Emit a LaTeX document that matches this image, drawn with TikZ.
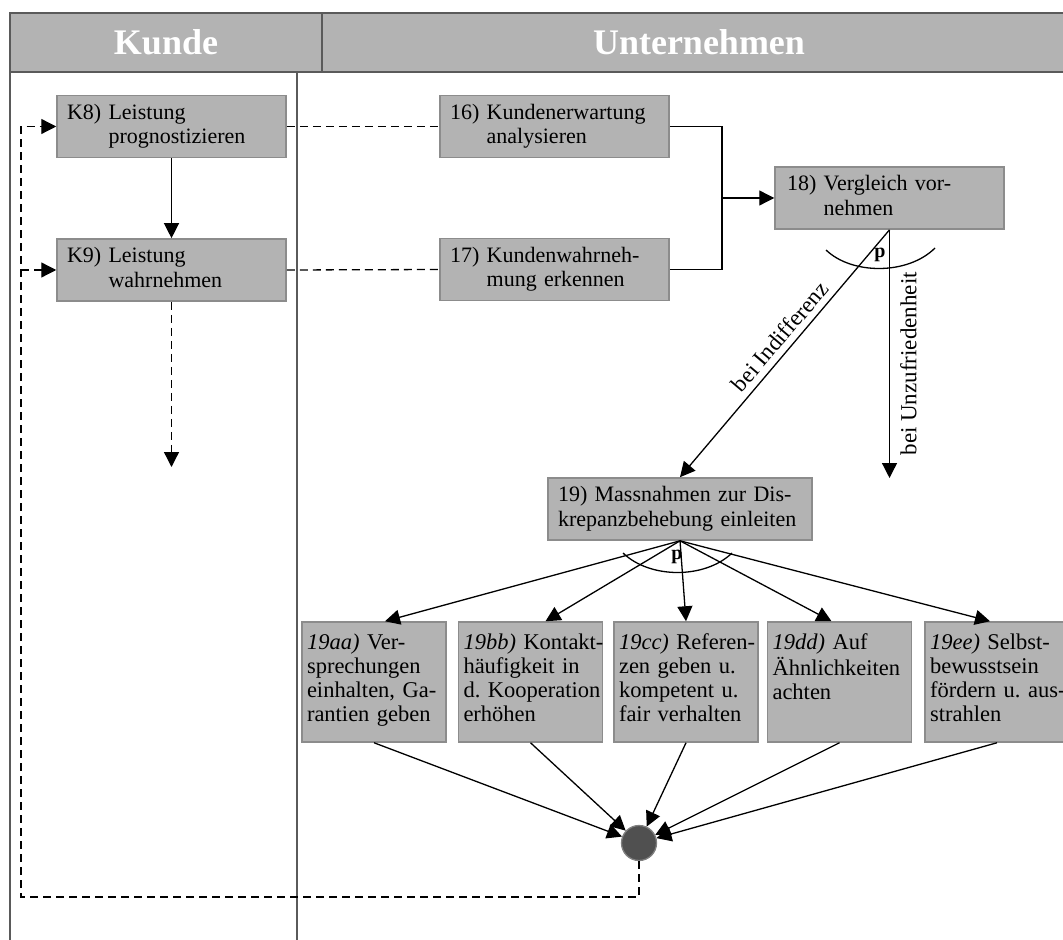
\documentclass[tikz,border=0pt]{standalone}
\usepackage{fontspec}
\setmainfont{Liberation Serif}
\usetikzlibrary{arrows.meta}
\definecolor{boxgray}{RGB}{179,179,179}
\definecolor{boxedge}{RGB}{140,140,140}
\definecolor{lanegray}{RGB}{90,90,90}
\definecolor{endgray}{RGB}{80,80,80}
\frenchspacing
\newcommand{\numtext}[2]{#1~\begin{tabular}[t]{@{}l@{}}#2\end{tabular}}
\newcommand{\lines}[1]{\begin{tabular}[t]{@{}l@{}}#1\end{tabular}}
\newcommand{\subtext}[1]{\parbox[c][49pt][t]{\linewidth}{\lines{#1}}}
\begin{document}
\begin{tikzpicture}[x=0.5pt,y=-0.5pt,font=\fontsize{11}{12.2}\selectfont,line width=0.65pt,
		act/.style={draw=boxedge,fill=boxgray,line width=0.75pt,text width=104.5pt,inner xsep=5pt,minimum height=30.5pt,align=left},
		sub/.style={draw=boxedge,fill=boxgray,line width=0.75pt,text width=67pt,inner xsep=2.5pt,minimum height=60pt,align=left,
			font=\fontsize{11.25}{12}\selectfont},
		hdrtext/.style={font=\fontsize{18}{20}\selectfont\bfseries,text=white},
		lane/.style={draw=lanegray,line width=0.75pt},
		arr/.style={-{Triangle[length=7.5pt,width=7.5pt]}},
		dsh/.style={dash pattern=on 4pt off 2.5pt},
		endpt/.style={circle,fill=endgray,draw=gray,minimum size=17.5pt,inner sep=0pt},
		lbl/.style={font=\fontsize{11.5}{13}\selectfont}]
		\useasboundingbox (0,0) rectangle (1063,940);
		\clip (0,0) rectangle (1063,940);
		\draw[lane,fill=boxgray] (10,13) rectangle (1080,72);
		\draw[lane] (322,13) -- (322,72);
		\draw[lane] (10,72) -- (10,940);
		\draw[lane] (297,72) -- (297,940);
		\node[hdrtext] (kunde) at (166,42) {Kunde};
		\node[hdrtext] (unternehmen) at (699,42) {Unternehmen};

		\node[act] (k8) at (171.5,126.5) {\numtext{K8)}{Leistung\\prognostizieren}};
		\node[act] (k9) at (171.5,270) {\numtext{K9)}{Leistung\\wahrnehmen}};
		\node[act] (b16) at (554.5,126.5) {\numtext{16)}{Kundenerwartung\\analysieren}};
		\node[act] (b17) at (554.5,269.5) {\numtext{17)}{Kundenwahrneh-\\mung erkennen}};
		\node[act,inner xsep=6pt,text width=102.5pt] (b18) at (889.5,198) {\numtext{18)}{Vergleich vor-\\nehmen}};
		\node[act,text width=122pt] (b19) at (680,509) {\lines{19) Massnahmen zur Dis-\\krepanzbehebung einleiten}};

		\node[sub] (saa) at (374,682) {\subtext{\textit{19aa)} Ver-\\sprechungen\\einhalten, Ga-\\rantien geben}};
		\node[sub] (sbb) at (530.5,682) {\subtext{\textit{19bb)} Kontakt-\\häufigkeit in\\d. Kooperation\\erhöhen}};
		\node[sub] (scc) at (686,682) {\subtext{\textit{19cc)} Referen-\\zen geben u.\\kompetent u.\\fair verhalten}};
		\node[sub] (sdd) at (839.5,682) {\subtext{\textit{19dd)} Auf\\Ähnlichkeiten\\achten}};
		\node[sub] (see) at (997,682) {\subtext{\textit{19ee)} Selbst-\\bewusstsein\\fördern u. aus-\\strahlen}};
		\node[endpt] (end) at (639,843) {};

		\draw[arr] (k8) -- (k9);
		\draw[dsh] (k8.east) -- (b16.west);
		\draw[dsh] (k9.east) -- (b17.west);
		\coordinate (k9out) at (171.5,467);
		\draw[dsh,arr] (k9.south) -- (k9out);

		\coordinate (join) at (722,198);
		\draw (b16.east) -| (join);
		\draw (b17.east) -| (join);
		\draw[arr] (join) -- (b18.west);

		\draw (826,250) .. controls (852,275) and (908,275) .. (935,248);
		\node[font=\bfseries] (p18) at (880,255) {p};
		\draw[arr] (b18.south) -- (b19.north) node[lbl,pos=0.47,sloped,above,inner sep=3pt] (indiff) {bei Indifferenz};
		\coordinate (unz) at (889.5,478);
		\draw[arr] (b18.south) -- (unz) node[lbl,pos=0.54,rotate=90,anchor=north,inner sep=5pt] (unzuf) {bei Unzufriedenheit};

		\draw (623,553) .. controls (650,579) and (705,579) .. (732,553);
		\node[font=\bfseries] (p19) at (677,557) {p};
		\foreach \s/\dx in {aa/11,bb/15,cc/0,dd/-8,ee/-7}
			\draw[arr] (b19.south) -- ([xshift=\dx*0.5pt]s\s.north);
		\foreach \s in {aa,bb,cc,dd,ee}
			\draw[arr] (s\s.south) -- (end);

		\coordinate (fbcorner) at (21,897);
		\coordinate (fb9) at (fbcorner |- k9.west);
		\draw[dsh,arr] (end.south) |- (fbcorner) |- (k8.west);
		\draw[dsh,arr] (fb9) -- (k9.west);
	\end{tikzpicture}
\end{document}
